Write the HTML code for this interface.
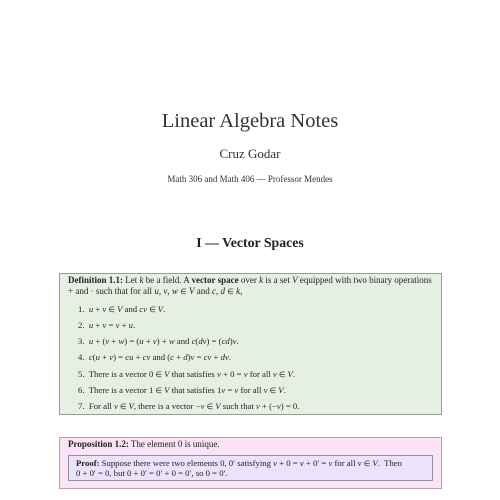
<!DOCTYPE html>
<html><head><meta charset="utf-8"><style>
body{margin:0;width:500px;height:500px;background:#fff;position:relative;overflow:hidden;font-family:"Liberation Serif",serif;color:#222}
.a{position:absolute;white-space:nowrap;line-height:1}
.c{left:0;width:500px;text-align:center}
i{font-style:italic}
.box{position:absolute;box-sizing:border-box}
.t{position:absolute;font-size:8.7px;white-space:nowrap;line-height:1}
.e{font-size:0.85em}
</style></head><body>
<div class="a c" style="top:111px;font-size:20.5px;color:#333">Linear Algebra Notes</div>
<div class="a c" style="top:147px;font-size:13px;color:#333">Cruz Godar</div>
<div class="a c" style="top:175px;font-size:9px;color:#333">Math 306 and Math 406 — Professor Mendes</div>
<div class="a c" style="top:236px;font-size:13.8px;font-weight:bold">I — Vector Spaces</div>

<div class="box" style="left:59px;top:273px;width:383px;height:142px;background:#e5f0e3;border:1px solid #9a9a9a"></div>
<div class="t" style="left:68px;top:276px;font-size:9px"><b>Definition 1.1:</b> Let <i>k</i> be a field. A <b>vector space</b> over <i>k</i> is a set <i>V</i> equipped with two binary operations</div>
<div class="t" style="left:68px;top:287px;font-size:9px">+ and · such that for all <i>u</i>, <i>v</i>, <i>w</i> <span class="e">∈</span> <i>V</i> and <i>c</i>, <i>d</i> <span class="e">∈</span> <i>k</i>,</div>
<div class="t" style="left:78px;top:305px">1.&nbsp; <i>u</i> + <i>v</i> <span class="e">∈</span> <i>V</i> and <i>cv</i> <span class="e">∈</span> <i>V</i>.</div>
<div class="t" style="left:78px;top:321px">2.&nbsp; <i>u</i> + <i>v</i> = <i>v</i> + <i>u</i>.</div>
<div class="t" style="left:78px;top:337px">3.&nbsp; <i>u</i> + (<i>v</i> + <i>w</i>) = (<i>u</i> + <i>v</i>) + <i>w</i> and <i>c</i>(<i>dv</i>) = (<i>cd</i>)<i>v</i>.</div>
<div class="t" style="left:78px;top:353px">4.&nbsp; <i>c</i>(<i>u</i> + <i>v</i>) = <i>cu</i> + <i>cv</i> and (<i>c</i> + <i>d</i>)<i>v</i> = <i>cv</i> + <i>dv</i>.</div>
<div class="t" style="left:78px;top:370px">5.&nbsp; There is a vector 0 <span class="e">∈</span> <i>V</i> that satisfies <i>v</i> + 0 = <i>v</i> for all <i>v</i> <span class="e">∈</span> <i>V</i>.</div>
<div class="t" style="left:78px;top:386px">6.&nbsp; There is a vector 1 <span class="e">∈</span> <i>V</i> that satisfies 1<i>v</i> = <i>v</i> for all <i>v</i> <span class="e">∈</span> <i>V</i>.</div>
<div class="t" style="left:78px;top:402px">7.&nbsp; For all <i>v</i> <span class="e">∈</span> <i>V</i>, there is a vector −<i>v</i> <span class="e">∈</span> <i>V</i> such that <i>v</i> + (−<i>v</i>) = 0.</div>

<div class="box" style="left:59px;top:437px;width:383px;height:52px;background:#fbe3f5;border:1px solid #b9a0b4"></div>
<div class="t" style="left:68px;top:440px;font-size:9px"><b>Proposition 1.2:</b> The element 0 is unique.</div>
<div class="box" style="left:68px;top:455px;width:365px;height:26px;background:#ebe3fa;border:1px solid #8f8f9f"></div>
<div class="t" style="left:76px;top:459px"><b>Proof:</b> Suppose there were two elements 0, 0′ satisfying <i>v</i> + 0 = <i>v</i> + 0′ = <i>v</i> for all <i>v</i> <span class="e">∈</span> <i>V</i>. &nbsp;Then</div>
<div class="t" style="left:76px;top:469px">0 + 0′ = 0, but 0 + 0′ = 0′ + 0 = 0′, so 0 = 0′.</div>
</body></html>
